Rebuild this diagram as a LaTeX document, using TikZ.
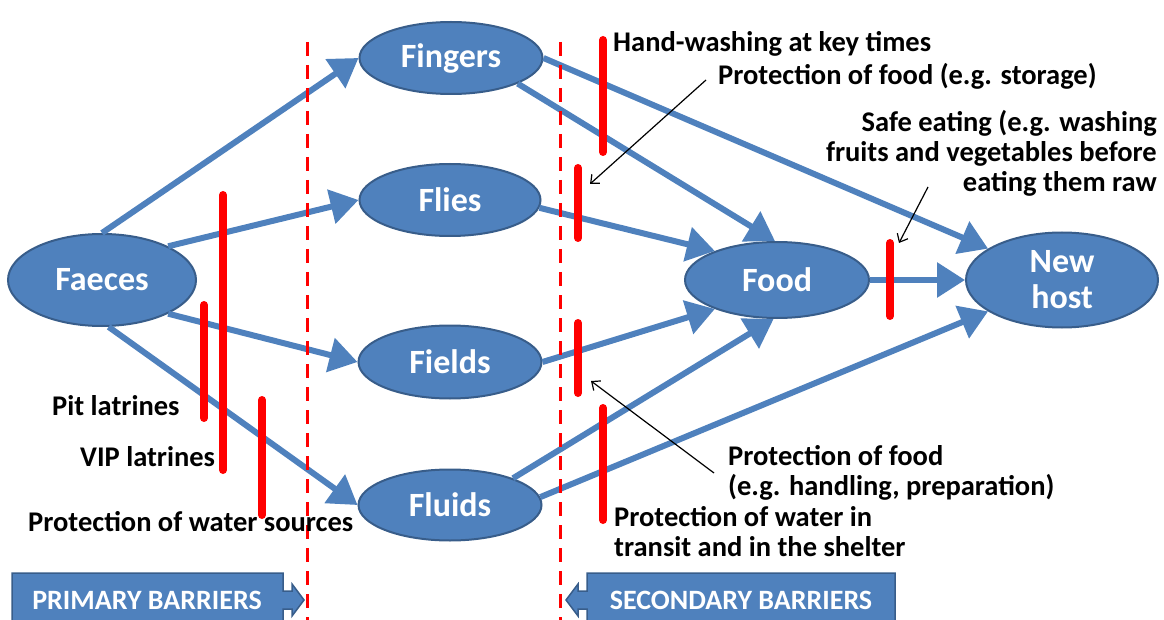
\documentclass[tikz,border=0pt]{standalone}
\usepackage{fontspec}
\setmainfont{Carlito}
\usetikzlibrary{arrows.meta,shapes.geometric}

\definecolor{nodeblue}{HTML}{4F81BD}
\definecolor{nodeedge}{HTML}{385D8A}
\definecolor{barred}{HTML}{FF0000}

\tikzset{
  carrier/.style 2 args={ellipse, fill=nodeblue, draw=nodeedge, line width=2pt,
    text=white, font=\bfseries\fontsize{34}{36}\selectfont, inner sep=0pt,
    align=center, minimum width=#1, minimum height=#2},
  flow/.style={draw=nodeblue, line width=6pt, -{Triangle[length=28pt,width=34pt]}},
  barrier/.style={draw=barred, line width=8pt, line cap=round},
  divider/.style={draw=barred, line width=3pt, dash pattern=on 14pt off 9pt},
  pointer/.style={draw=black, line width=1.2pt, -{Straight Barb[length=7pt,width=12pt]}},
  lbl/.style={font=\bfseries\fontsize{28.5}{30}\selectfont, inner sep=0pt, text=black},
  banner/.style={fill=nodeblue, draw=nodeedge, line width=1.5pt},
  bannertext/.style={font=\bfseries\fontsize{28}{30}\selectfont, text=white, inner sep=0pt}
}

\begin{document}
\begin{tikzpicture}[x=1pt,y=-1pt]
\useasboundingbox (0,0) rectangle (1164,620);
\clip (0,0) rectangle (1164,620);

% transmission routes
\node[carrier={188pt}{92pt}] (faeces) at (102,280) {Faeces};
\node[carrier={183pt}{72pt}] (fingers) at (451,58) {Fingers};
\node[carrier={181pt}{72pt}] (flies) at (450,200) {Flies};
\node[carrier={183pt}{73pt}] (fields) at (450,362) {Fields};
\node[carrier={183pt}{71pt}] (fluids) at (450,505) {Fluids};
\node[carrier={184pt}{76pt}] (food) at (777,280) {Food};
\node[carrier={192pt}{95pt}] (newhost) at (1062,280) {New\\host};

\draw[flow] (faeces.90) -- (fingers.west);
\draw[flow] (faeces.27) -- (flies.west);
\draw[flow] (faeces.-27) -- (fields.west);
\draw[flow] (faeces.-82) -- (fluids.west);
\draw[flow] (fingers.-21) -- (food.93);
\draw[flow] (fingers.east) -- (newhost.157);
\draw[flow] (flies.-5) -- (food.155);
\draw[flow] (fields.east) -- (food.205);
\draw[flow] (fluids.23) -- (food.-95);
\draw[flow] (fluids.5) -- (newhost.203);
\draw[flow] (food.east) -- (newhost.west);

% primary / secondary limits
\draw[divider] (307,42) -- (307,625);
\draw[divider] (560,42) -- (560,625);

% barriers
\draw[barrier] (223,195) -- (223,470);
\draw[barrier] (204,305) -- (204,418);
\draw[barrier] (262,400) -- (262,515);
\draw[barrier] (603,40) -- (603,152);
\draw[barrier] (578,168) -- (578,238);
\draw[barrier] (578,323) -- (578,393);
\draw[barrier] (603,408) -- (603,520);
\draw[barrier] (890,243) -- (890,316);

% barrier labels (base anchor = baseline of the last line)
\node[lbl, anchor=base west] (hands) at (613,52) {Hand-washing at key times};
\node[lbl, anchor=base west] (storage) at (718,85) {Protection of food (e.g. storage)};
\node[lbl, anchor=base east, align=right] (eating) at (1157,192)
  {Safe eating (e.g. washing\\fruits and vegetables before\\eating them raw};
\node[lbl, anchor=base west] (pit) at (52,415) {Pit latrines};
\node[lbl, anchor=base west] (vip) at (80,466) {VIP latrines};
\node[lbl, anchor=base west] (sources) at (28,531) {Protection of water sources};
\node[lbl, anchor=base west, align=left] (handling) at (728,495)
  {Protection of food\\(e.g. handling, preparation)};
\node[lbl, anchor=base west, align=left] (transit) at (614,556)
  {Protection of water in\\transit and in the shelter};

% pointers from labels to barriers
\coordinate (storagefrom) at (706,80);
\coordinate (storageto) at (590,184);
\coordinate (eatingfrom) at (928,187);
\coordinate (eatingto) at (899,243);
\coordinate (handlingfrom) at (714,473);
\coordinate (handlingto) at (591,381);
\draw[pointer] (storagefrom) -- (storageto);
\draw[pointer] (eatingfrom) -- (eatingto);
\draw[pointer] (handlingfrom) -- (handlingto);

% banners
\draw[banner] (12,625) -- (12,573) -- (283,573) -- (283,591) -- (292,591) -- (292,584)
  -- (304,600) -- (292,616) -- (292,609) -- (283,609) -- (283,625);
\node[bannertext] (primary) at (147,600) {PRIMARY BARRIERS};
\draw[banner] (895,625) -- (895,573) -- (587,573) -- (587,591) -- (578,591) -- (578,584)
  -- (566,600) -- (578,616) -- (578,609) -- (587,609) -- (587,625);
\node[bannertext] (secondary) at (741,600) {SECONDARY BARRIERS};
\end{tikzpicture}
\end{document}
